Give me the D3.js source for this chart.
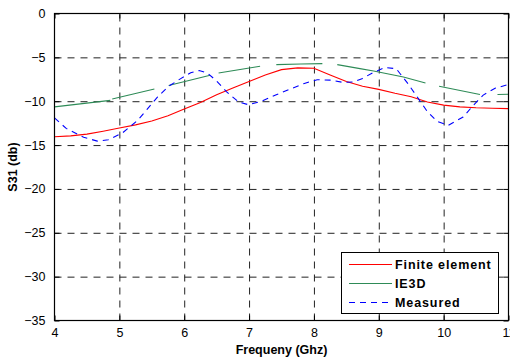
<!DOCTYPE html>
<html>
<head>
<meta charset="utf-8">
<script src="https://cdn.jsdelivr.net/npm/d3@7"></script>
<style>
  html, body { margin: 0; padding: 0; background: #fff; }
  svg { display: block; font-family: "Liberation Sans", Arial, sans-serif; }
</style>
</head>
<body>
<svg id="chart" width="510" height="358"></svg>
<script>
// Axis ticks
const xTicks = [4, 5, 6, 7, 8, 9, 10, 11];
const yTicks = [0, -5, -10, -15, -20, -25, -30, -35];

// Finite element simulation (S31, dB)
const feFreq = [4.0, 4.25, 4.5, 4.75, 5.0, 5.25, 5.5, 5.75, 6.0, 6.25, 6.5, 6.75, 7.0, 7.25, 7.5, 7.75, 8.0, 8.25, 8.5, 8.75, 9.0, 9.25, 9.5, 9.75, 10.0, 10.25, 10.5, 10.75, 11.0];
const feS31 = [-14.05, -13.95, -13.75, -13.42, -13.05, -12.7, -12.25, -11.65, -10.9, -10.15, -9.25, -8.5, -7.75, -7.0, -6.4, -6.2, -6.25, -7.0, -7.75, -8.3, -8.65, -9.1, -9.5, -10.1, -10.45, -10.65, -10.75, -10.8, -10.85];

// IE3D simulation (S31, dB); null marks frequencies with no trace
const ie3dFreq = [4.0, 4.86, 4.875, 4.89, 5.54, 5.65, 5.76, 6.40, 6.46, 6.53, 7.17, 7.30, 7.42, 7.80, 8.13, 8.25, 8.36, 8.71, 8.92, 9.38, 9.72, 9.82, 9.93, 10.56, 10.70, 10.83, 11.0];
const ie3dS31 = [-10.65, -9.9, null, -9.75, -8.6, null, -8.2, -7.05, null, -6.78, -6.02, null, -5.83, -5.75, -5.72, null, -5.83, -6.28, -6.56, -7.24, -7.92, null, -8.3, -9.24, null, -9.24, -9.2];

// Measured (S31, dB)
const measFreq = [4.0, 4.18, 4.45, 4.66, 4.83, 5.05, 5.28, 5.43, 5.59, 5.76, 5.94, 6.10, 6.23, 6.36, 6.50, 6.65, 6.84, 6.99, 7.19, 7.41, 7.64, 7.84, 8.05, 8.25, 8.45, 8.61, 8.75, 8.92, 9.10, 9.27, 9.45, 9.61, 9.75, 9.90, 10.07, 10.30, 10.46, 10.61, 10.80, 11.0];
const measS31 = [-11.9, -13.1, -14.1, -14.55, -14.4, -13.6, -12.2, -10.9, -9.5, -8.3, -7.45, -6.75, -6.5, -6.8, -7.7, -8.9, -10.1, -10.4, -10.0, -9.3, -8.6, -8.0, -7.55, -7.6, -7.85, -7.8, -7.4, -6.7, -6.15, -6.3, -8.0, -9.7, -11.2, -12.3, -12.75, -11.8, -10.45, -9.3, -8.5, -8.1];

const seriesNames = ["Finite element", "IE3D", "Measured"];
const xTitle = "Frequeny (Ghz)";
const yTitle = "S31 (db)";

const svg = d3.select("#chart");
const plotL = 54.5, plotR = 508.5, plotT = 13.5, plotB = 320.5;

const x = d3.scaleLinear().domain([4, 11]).range([plotL, plotR]);
const y = d3.scaleLinear().domain([-35, 0]).range([plotB, plotT]);

svg.append("rect").attr("width", 510).attr("height", 358).attr("fill", "#fff");

// Dashed grid
const gridX = svg.append("g").attr("transform", `translate(0,${plotB})`)
  .call(d3.axisBottom(x).tickValues(xTicks.slice(1, -1)).tickSize(-(plotB - plotT)).tickFormat(""));
const gridY = svg.append("g").attr("transform", `translate(${plotL},0)`)
  .call(d3.axisLeft(y).tickValues(yTicks.slice(1, -1)).tickSize(-(plotR - plotL)).tickFormat(""));
[gridX, gridY].forEach(g => {
  g.select(".domain").remove();
  g.selectAll("line").attr("stroke", "#222").attr("stroke-dasharray", "7,6");
});

// Data lines
const pts = (fs, vs) => fs.map((f, i) => [f, vs[i]]);
const line = d3.line().defined(d => d[1] !== null).x(d => x(d[0])).y(d => y(d[1]));

svg.append("path").datum(pts(ie3dFreq, ie3dS31))
  .attr("d", line).attr("fill", "none").attr("stroke", "#2e8b57").attr("stroke-width", 1.1);
svg.append("path").datum(pts(feFreq, feS31))
  .attr("d", line).attr("fill", "none").attr("stroke", "#ff0000").attr("stroke-width", 1.1);
svg.append("path").datum(pts(measFreq, measS31))
  .attr("d", line).attr("fill", "none").attr("stroke", "#0000ff").attr("stroke-width", 1.1)
  .attr("stroke-dasharray", "6,5");

// Frame and inward ticks on all four sides
const styleAxis = g => {
  g.select(".domain").remove();
  g.selectAll("line").attr("stroke", "#000");
  g.selectAll("text").attr("fill", "#000").style("font-size", "12.5px")
    .style("font-family", '"Liberation Sans", Arial, sans-serif');
};
svg.append("g").attr("transform", `translate(0,${plotB})`)
  .call(d3.axisBottom(x).tickValues(xTicks).tickSizeInner(-5).tickSizeOuter(0).tickPadding(8).tickFormat(d3.format("d")))
  .call(styleAxis);
svg.append("g").attr("transform", `translate(0,${plotT})`)
  .call(d3.axisTop(x).tickValues(xTicks).tickSizeInner(-5).tickSizeOuter(0).tickFormat(""))
  .call(styleAxis);
svg.append("g").attr("transform", `translate(${plotL},0)`)
  .call(d3.axisLeft(y).tickValues(yTicks).tickSizeInner(-5).tickSizeOuter(0).tickPadding(9).tickFormat(d3.format("d")))
  .call(styleAxis);
svg.append("g").attr("transform", `translate(${plotR},0)`)
  .call(d3.axisRight(y).tickValues(yTicks).tickSizeInner(-5).tickSizeOuter(0).tickFormat(""))
  .call(styleAxis);

svg.append("rect").attr("x", plotL).attr("y", plotT)
  .attr("width", plotR - plotL).attr("height", plotB - plotT)
  .attr("fill", "none").attr("stroke", "#000").attr("stroke-width", 1.2);

// Axis titles
svg.append("text").attr("x", (plotL + plotR) / 2).attr("y", 354)
  .attr("text-anchor", "middle").attr("font-weight", "bold").attr("font-size", 12.5)
  .text(xTitle);
svg.append("text").attr("transform", `translate(17,${(plotT + plotB) / 2}) rotate(-90)`)
  .attr("text-anchor", "middle").attr("font-weight", "bold").attr("font-size", 12.5)
  .text(yTitle);

// Legend
const legend = svg.append("g");
legend.append("rect").attr("x", 341.5).attr("y", 252.5).attr("width", 157).attr("height", 61)
  .attr("fill", "#fff").attr("stroke", "#000").attr("stroke-width", 1);
const legendStyles = [
  { color: "#ff0000", dash: null },
  { color: "#2e8b57", dash: null },
  { color: "#0000ff", dash: "6,5" }
];
seriesNames.forEach((name, i) => {
  const ly = 264.5 + i * 19;
  legend.append("line").attr("x1", 349).attr("x2", 392).attr("y1", ly).attr("y2", ly)
    .attr("stroke", legendStyles[i].color).attr("stroke-width", 1.1)
    .attr("stroke-dasharray", legendStyles[i].dash);
  legend.append("text").attr("x", 395).attr("y", ly + 4.5)
    .attr("font-weight", "bold").attr("font-size", 12.5).attr("letter-spacing", 0.9)
    .text(name);
});
</script>
</body>
</html>
